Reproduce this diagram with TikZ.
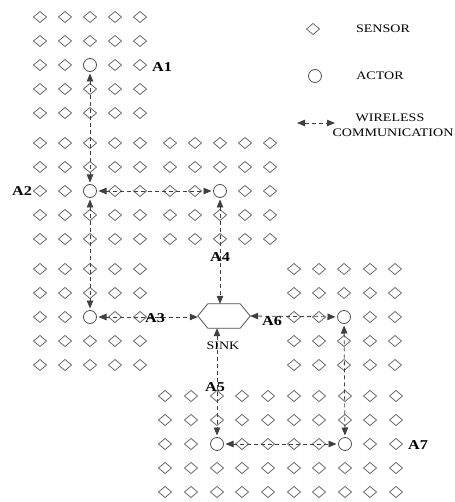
\documentclass[tikz,border=0pt]{standalone}
\usepackage{fontspec}
\setmainfont{Liberation Serif}
\newfontfamily\legfont[FakeStretch=1.22]{Liberation Serif}
\newfontfamily\labfont[FakeStretch=1.2]{Liberation Serif}
\usetikzlibrary{arrows.meta,calc}
\definecolor{sensgray}{HTML}{6A6A6A}
\definecolor{actgray}{HTML}{505050}
\definecolor{linkgray}{HTML}{404040}
\tikzset{
  sensorline/.style={draw=sensgray, line width=0.8pt, line join=miter},
  sensor/.pic={\path[sensorline] (-6.5,0) -- (0,-5.5) -- (6.5,0) -- (0,5.5) -- cycle;},
  actor/.style={circle, draw=actgray, line width=0.8pt, minimum size=13pt, inner sep=0pt, outer sep=2pt},
  link/.style={draw=linkgray, line width=0.8pt, dash pattern=on 4pt off 3pt,
    {Triangle[length=8pt,width=6.5pt]}-{Triangle[length=8pt,width=6.5pt]}},
  sinkbox/.style={rectangle, minimum width=52pt, minimum height=24pt, inner sep=0pt},
  sinkline/.style={draw=actgray, line width=0.8pt},
  legtext/.style={font=\legfont\fontsize{11.5}{13.5}\selectfont, inner sep=0pt, align=center},
  albl/.style={font=\labfont\bfseries\fontsize{13.5}{15}\selectfont, inner sep=0pt}
}
\begin{document}
\begin{tikzpicture}[x=1pt,y=-1pt]
\useasboundingbox (0,0) rectangle (454,502);
% ---------- sensors ----------
% top-left block
\foreach \r in {17,41,89,113} \foreach \c in {40,65,90,115,140} \pic at (\c,\r) {sensor};
\foreach \c in {40,65,115,140} \pic at (\c,65) {sensor};
% second band, left
\foreach \r in {143,167,215,239} \foreach \c in {40,65,90,115,140} \pic at (\c,\r) {sensor};
\foreach \c in {40,65,115,140} \pic at (\c,191) {sensor};
% second band, right
\foreach \r in {143,167,215,239} \foreach \c in {170,195,220,245,270} \pic at (\c,\r) {sensor};
\foreach \c in {170,195,245,270} \pic at (\c,191) {sensor};
% third band, left
\foreach \r in {269,293,341,365} \foreach \c in {40,65,90,115,140} \pic at (\c,\r) {sensor};
\foreach \c in {40,65,115,140} \pic at (\c,317) {sensor};
% third band, right
\foreach \r in {269,293,341,365} \foreach \c in {294,319,344,370,395} \pic at (\c,\r) {sensor};
\foreach \c in {294,319,370,395} \pic at (\c,317) {sensor};
% bottom band
\foreach \r in {396,420,468,492} \foreach \c in {165,191,217,242,268,294,319,345,370,396} \pic at (\c,\r) {sensor};
\foreach \c in {165,191,242,268,294,319,370,396} \pic at (\c,444) {sensor};
% ---------- actors ----------
\node[actor] (a1) at (90,65) {};
\node[actor] (a2) at (90,191) {};
\node[actor] (a4) at (220,191) {};
\node[actor] (a3) at (90,317) {};
\node[actor] (a6) at (344,317) {};
\node[actor] (a5) at (217,444) {};
\node[actor] (a7) at (345,444) {};
% ---------- sink ----------
\node[sinkbox] (sink) at (224,316) {};
\path[sinkline] (sink.west) -- ([xshift=10pt]sink.north west) -- ([xshift=-10pt]sink.north east)
  -- (sink.east) -- ([xshift=-10pt]sink.south east) -- ([xshift=10pt]sink.south west) -- cycle;
\node[legtext] (sinklbl) at (223,346) {SINK};
% ---------- links ----------
\draw[link] (a1) -- (a2);
\draw[link] (a2) -- (a4);
\draw[link] (a2) -- (a3);
\draw[link] (a4) -- (a4 |- sink.north);
\draw[link] (a3) -- (a3 -| sink.west);
\draw[link] (sink.east) -- (a6);
\draw[link] (sink.south -| a5) -- (a5);
\draw[link] (a6) -- (a7);
\draw[link] (a5) -- (a7);
% ---------- labels ----------
\node[albl] (l1) at (162,67) {A1};
\node[albl] (l2) at (22,191) {A2};
\node[albl] (l3) at (155,318) {A3};
\node[albl] (l4) at (220,257) {A4};
\node[albl] (l5) at (215,387) {A5};
\node[albl] (l6) at (272,321) {A6};
\node[albl] (l7) at (418,445) {A7};
% ---------- legend ----------
\pic at (313,29) {sensor};
\node[legtext] (lsens) at (383,29) {SENSOR};
\node[actor] (lact) at (315,76) {};
\node[legtext] (lacttxt) at (380,76) {ACTOR};
\coordinate (lgl) at (297,123);
\coordinate (lgr) at (335,123);
\draw[link] (lgl) -- (lgr);
\node[legtext] (lwire) at (390,118) {WIRELESS};
\node[legtext] (lcomm) at (393,133) {COMMUNICATION};
\end{tikzpicture}
\end{document}
